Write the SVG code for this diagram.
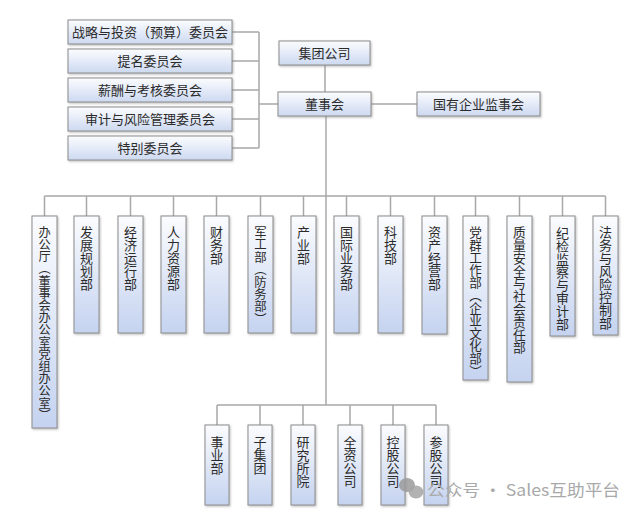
<svg xmlns="http://www.w3.org/2000/svg" width="644" height="515" viewBox="0 0 644 515">
<defs>
<linearGradient id="gh" x1="0" y1="0" x2="0" y2="1">
<stop offset="0" stop-color="#fbfcfe"/>
<stop offset="1" stop-color="#cdd9f1"/>
</linearGradient>
<linearGradient id="gv" x1="0" y1="0" x2="0" y2="1">
<stop offset="0" stop-color="#fbfcfe"/>
<stop offset="1" stop-color="#c5d3f0"/>
</linearGradient>
<filter id="sh" x="-20%" y="-20%" width="140%" height="140%">
<feDropShadow dx="1" dy="1.2" stdDeviation="0.8" flood-color="#8a8a8a" flood-opacity="0.55"/>
</filter>
</defs>
<style>
.bh{fill:url(#gh);stroke:#8c8c8c;stroke-width:1;filter:url(#sh)}
.bv{fill:url(#gv);stroke:#8c8c8c;stroke-width:1;filter:url(#sh)}
.t{font-family:"Noto Sans CJK SC","Noto Sans",sans-serif;font-size:13px;fill:#2b2b2b;text-anchor:middle}
.v{font-family:"Noto Sans CJK SC","Noto Sans",sans-serif;font-size:13px;fill:#2b2b2b;writing-mode:vertical-rl}
.c{stroke:#a8a8a8;stroke-width:1.5;fill:none}
.wm{font-family:"Noto Sans CJK SC","Noto Sans",sans-serif;font-size:16px;fill:#a9a9a9}
</style>
<rect width="644" height="515" fill="#ffffff"/>
<g id="connectors" class="c">
<path d="M232 32H259M232 61H259M232 90H259M232 119H259M232 148H259M259 32V148M259 104H278"/>
<path d="M325 65V92M371 104H417"/>
<path d="M326 116V405"/>
<path d="M44.5 196H605.5M44.5 196V216M86.5 196V216M130.5 196V216M173.5 196V216M216.5 196V216M260.5 196V216M303.5 196V216M346.5 196V216M390.5 196V216M434.5 196V216M475.5 196V216M519.5 196V216M562.5 196V216M605.5 196V216"/>
<path d="M217 405H436M217 405V425M260 405V425M303 405V425M350 405V425M393 405V425M436 405V425"/>
</g>
<g id="c1"><rect class="bh" x="68" y="20" width="164" height="24"/><text class="t" x="150" y="36.5">战略与投资（预算）委员会</text></g>
<g id="c2"><rect class="bh" x="68" y="49" width="164" height="24"/><text class="t" x="150" y="65.5">提名委员会</text></g>
<g id="c3"><rect class="bh" x="68" y="78" width="164" height="24"/><text class="t" x="150" y="94.5">薪酬与考核委员会</text></g>
<g id="c4"><rect class="bh" x="68" y="107" width="164" height="24"/><text class="t" x="150" y="123.5">审计与风险管理委员会</text></g>
<g id="c5"><rect class="bh" x="68" y="136" width="164" height="24"/><text class="t" x="150" y="152.5">特别委员会</text></g>
<g id="jituan"><rect class="bh" x="279" y="41" width="91" height="24"/><text class="t" x="324.5" y="57.5">集团公司</text></g>
<g id="dongshihui"><rect class="bh" x="278" y="92" width="93" height="24"/><text class="t" x="324.5" y="108.5">董事会</text></g>
<g id="jianshihui"><rect class="bh" x="417" y="92" width="123" height="24"/><text class="t" x="478.5" y="108.5">国有企业监事会</text></g>
<g id="d1"><rect class="bv" x="32" y="216" width="25" height="212"/><text class="v" x="44.5" y="226" style="font-size:12.2px">办公厅（董事会办公室党组办公室）</text></g>
<g id="d2"><rect class="bv" x="74" y="216" width="25" height="117"/><text class="v" x="86.5" y="226">发展规划部</text></g>
<g id="d3"><rect class="bv" x="118" y="216" width="25" height="117"/><text class="v" x="130.5" y="226">经济运行部</text></g>
<g id="d4"><rect class="bv" x="161" y="216" width="25" height="117"/><text class="v" x="173.5" y="226">人力资源部</text></g>
<g id="d5"><rect class="bv" x="204" y="216" width="25" height="117"/><text class="v" x="216.5" y="226">财务部</text></g>
<g id="d6"><rect class="bv" x="248" y="216" width="25" height="117"/><text class="v" x="260.5" y="226" style="font-size:12.4px">军工部（防务部）</text></g>
<g id="d7"><rect class="bv" x="291" y="216" width="25" height="117"/><text class="v" x="303.5" y="226">产业部</text></g>
<g id="d8"><rect class="bv" x="334" y="216" width="25" height="117"/><text class="v" x="346.5" y="226">国际业务部</text></g>
<g id="d9"><rect class="bv" x="378" y="216" width="25" height="117"/><text class="v" x="390.5" y="226">科技部</text></g>
<g id="d10"><rect class="bv" x="422" y="216" width="25" height="118"/><text class="v" x="434.5" y="226">资产经营部</text></g>
<g id="d11"><rect class="bv" x="463" y="216" width="25" height="164"/><text class="v" x="475.5" y="226" style="font-size:12.6px">党群工作部（企业文化部）</text></g>
<g id="d12"><rect class="bv" x="507" y="216" width="25" height="166"/><text class="v" x="519.5" y="226" style="font-size:12.8px">质量安全与社会责任部</text></g>
<g id="d13"><rect class="bv" x="550" y="216" width="25" height="120"/><text class="v" x="562.5" y="227">纪检监察与审计部</text></g>
<g id="d14"><rect class="bv" x="593" y="216" width="25" height="119"/><text class="v" x="605.5" y="226">法务与风险控制部</text></g>
<g id="s1"><rect class="bv" x="205" y="425" width="24" height="80"/><text class="v" x="217" y="436">事业部</text></g>
<g id="s2"><rect class="bv" x="248" y="425" width="24" height="80"/><text class="v" x="260" y="436">子集团</text></g>
<g id="s3"><rect class="bv" x="291" y="425" width="24" height="80"/><text class="v" x="303" y="436">研究所院</text></g>
<g id="s4"><rect class="bv" x="338" y="425" width="24" height="80"/><text class="v" x="350" y="436">全资公司</text></g>
<g id="s5"><rect class="bv" x="381" y="425" width="24" height="80"/><text class="v" x="393" y="436">控股公司</text></g>
<g id="s6"><rect class="bv" x="424" y="425" width="24" height="80"/><text class="v" x="436" y="436">参股公司</text></g>
<g id="watermark">
<ellipse cx="407" cy="485" rx="8" ry="7" fill="#9a9a9a" opacity="0.85"/>
<ellipse cx="416" cy="492" rx="7.5" ry="6.5" fill="#a4a4a4" opacity="0.85"/>
<text class="wm" x="427" y="496" textLength="193" lengthAdjust="spacingAndGlyphs">公众号 · Sales互助平台</text>
</g>
</svg>
